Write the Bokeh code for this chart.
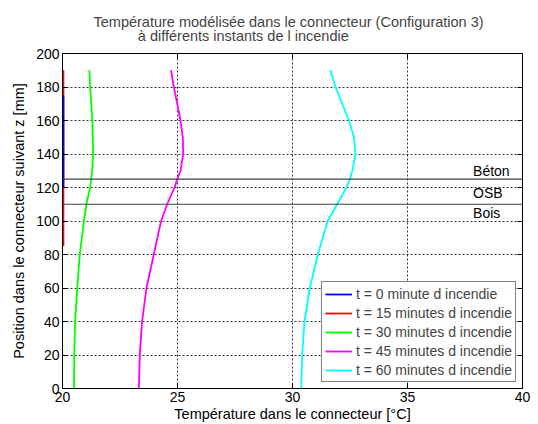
from bokeh.plotting import figure
from bokeh.models import Legend, LegendItem, Span, Label, LinearAxis, Range1d, Title
from bokeh.embed import file_html
from bokeh.resources import INLINE

# ---- data ----
z_t0 = [120, 175]
T_t0 = [20.04, 20.04]
z_t15 = [85, 190]
T_t15 = [20.04, 20.04]
z_t30 = [0, 20, 40, 60, 80, 94, 100, 110, 120, 130, 140, 160, 180, 190]
T_t30 = [20.5, 20.51, 20.55, 20.64, 20.75, 20.88, 20.93, 21.04, 21.2, 21.29, 21.33, 21.3, 21.2, 21.17]
z_t45 = [0, 20, 40, 60, 80, 94, 100, 110, 120, 125, 130, 140, 150, 160, 170, 180, 190]
T_t45 = [23.32, 23.36, 23.46, 23.65, 23.97, 24.19, 24.29, 24.55, 24.87, 24.99, 25.13, 25.25, 25.23, 25.13, 24.99, 24.84, 24.72]
z_t60 = [0, 20, 40, 60, 80, 94, 100, 110, 120, 125, 130, 140, 150, 160, 170, 180, 190]
T_t60 = [30.38, 30.42, 30.52, 30.75, 31.1, 31.4, 31.53, 31.94, 32.35, 32.5, 32.6, 32.74, 32.67, 32.45, 32.16, 31.87, 31.65]

series_labels = ["t = 0 minute d incendie", "t = 15 minutes d incendie", "t = 30 minutes d incendie",
                 "t = 45 minutes d incendie", "t = 60 minutes d incendie"]
series_colors = ["#0000ff", "#ff0000", "#00ff00", "#ff00ff", "#00ffff"]

limites = [125, 110]
couches = ["Béton", "OSB", "Bois"]
couches_y = [130, 116.5, 105]
couches_x = 37.85

x_ticks = [20, 25, 30, 35, 40]
y_ticks = list(range(0, 201, 20))

title_lines = ["Température modélisée dans le connecteur (Configuration 3)",
               "\u00a0" * 11 + "à différents instants de l incendie"]

FONT = "Liberation Sans"

p = figure(width=538, height=424, output_backend="svg", toolbar_location=None,
           x_range=Range1d(20, 40), y_range=Range1d(0, 200),
           frame_width=460, frame_height=335,
           min_border_left=62, min_border_right=16, min_border_top=53, min_border_bottom=36)
p.title = None
p.background_fill_color = "white"
p.border_fill_color = "white"
p.outline_line_color = "black"

for ax, ticks in ((p.xaxis[0], x_ticks), (p.yaxis[0], y_ticks)):
    ax.ticker = ticks
    ax.major_tick_in = 5
    ax.major_tick_out = 0
    ax.minor_tick_line_color = None
    ax.major_label_text_font = FONT
    ax.major_label_text_font_size = "14px"
    ax.major_label_text_color = "black"
    ax.axis_label_text_font = FONT
    ax.axis_label_text_font_size = "14.5px"
    ax.axis_label_text_font_style = "normal"
    ax.axis_label_text_color = "black"
    ax.axis_line_color = "black"
    ax.major_tick_line_color = "black"
p.xaxis.axis_label = "Température dans le connecteur [°C]"
p.yaxis.axis_label = "Position dans le connecteur suivant z [mm]"
p.xaxis.major_label_standoff = 3
p.xaxis.axis_label_standoff = 1
p.yaxis.major_label_standoff = 3
p.yaxis.axis_label_standoff = 6

for loc, ticks in (("above", x_ticks), ("right", y_ticks)):
    a = LinearAxis(ticker=ticks, major_tick_in=5, major_tick_out=0,
                   minor_tick_line_color=None, major_label_text_font_size="0px",
                   major_label_standoff=0,
                   axis_line_color="black", major_tick_line_color="black")
    p.add_layout(a, loc)

p.grid.grid_line_color = "black"
p.grid.grid_line_alpha = 0.8
p.grid.grid_line_dash = "2 2"
p.grid.grid_line_width = 1
p.xgrid.ticker = x_ticks
p.ygrid.ticker = y_ticks

for loc in limites:
    p.add_layout(Span(location=loc, dimension="width", line_color="#404040", line_width=1.2))

curves = [(T_t0, z_t0), (T_t15, z_t15), (T_t30, z_t30), (T_t45, z_t45), (T_t60, z_t60)]
renderers = [None] * 5
for i in [1, 0, 2, 3, 4]:
    T, z = curves[i]
    renderers[i] = p.line(T, z, line_color=series_colors[i], line_width=1.8)

for name, yy in zip(couches, couches_y):
    p.add_layout(Label(x=couches_x, y=yy, text=name, text_font=FONT, text_font_size="14px",
                       text_baseline="middle", text_color="black"))

legend = Legend(items=[LegendItem(label=l, renderers=[r]) for l, r in zip(series_labels, renderers)],
                location="bottom_right", label_text_font=FONT, label_text_font_size="14px",
                border_line_color="black", border_line_width=1, background_fill_color="white",
                glyph_width=27, glyph_height=16, spacing=2, padding=3, margin=6,
                label_standoff=4, label_height=17)
p.add_layout(legend)

p.add_layout(Title(text="\n".join(title_lines), align="left", offset=31, text_font=FONT,
                   text_font_size="14.5px", text_font_style="normal", text_line_height=0.93,
                   standoff=18), "above")

open("out.html", "w").write(file_html(p, INLINE))
